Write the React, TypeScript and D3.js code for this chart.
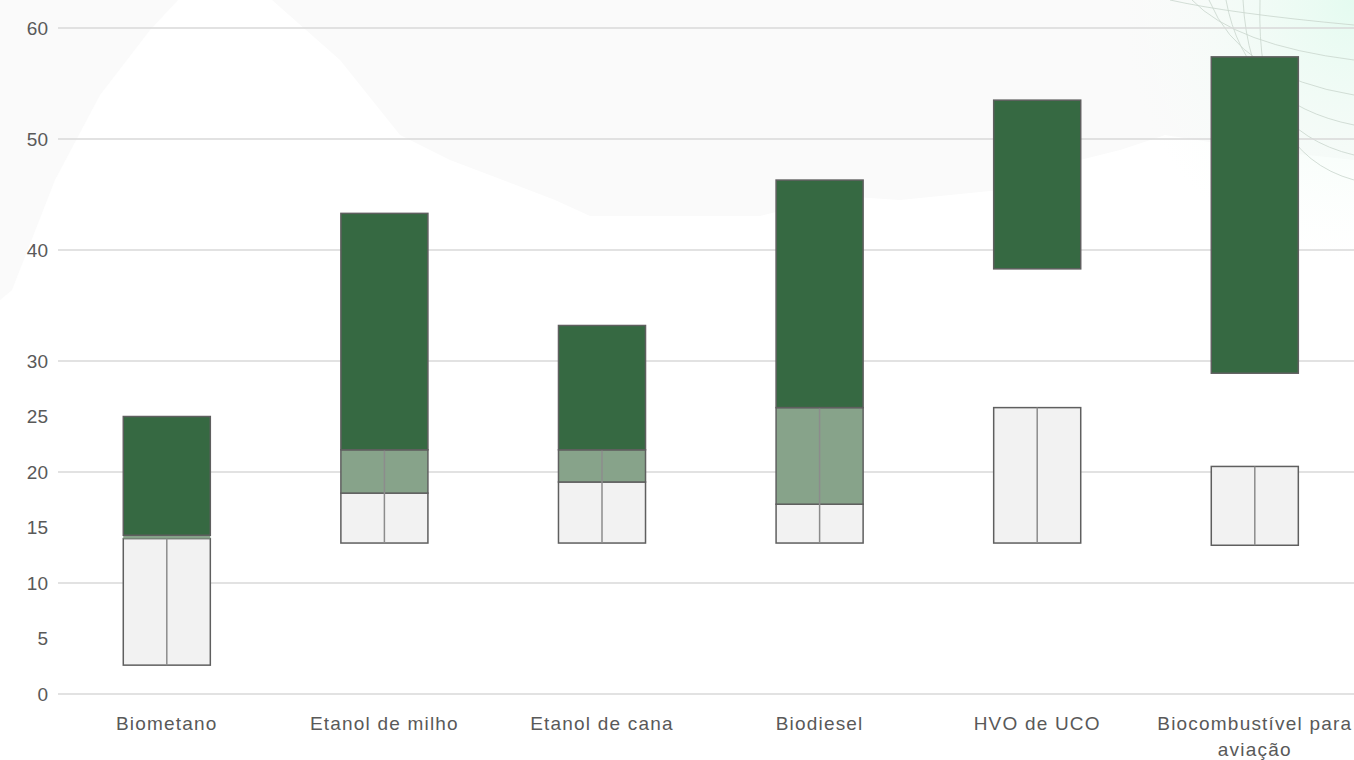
import React, { useEffect, useRef } from 'react';
import * as d3 from 'd3';

// categories and ranges
const categories = ['Biometano', 'Etanol de milho', 'Etanol de cana', 'Biodiesel', 'HVO de UCO', 'Biocombustível para aviação'];
const grayLow = [2.6, 13.6, 13.6, 13.6, 13.6, 13.4];
const grayHigh = [14.0, 18.1, 19.1, 17.1, 25.8, 20.5];
const lightHigh = [14.3, 22.0, 22.0, 25.8, null, null];
const darkLow = [14.3, 22.0, 22.0, 25.8, 38.3, 28.9];
const darkHigh = [25.0, 43.3, 33.2, 46.3, 53.5, 57.4];
const tickLabels = [0, 5, 10, 15, 20, 25, 30, 40, 50, 60];
const gridValues = [0, 10, 20, 30, 40, 50, 60];

const W = 1354;
const H = 760;

export default function App() {
  const svgRef = useRef<SVGSVGElement>(null);

  useEffect(() => {
    if (!svgRef.current) return;
    const svg = d3.select(svgRef.current);
    svg.selectAll('*').remove();

    // background decoration
    svg.append('rect').attr('width', W).attr('height', H).attr('fill', '#ffffff');
    const bg = svg.append('g');
    bg.append('path')
      .attr('d', 'M0,0 L178,0 L150,30 L100,95 L55,180 L12,290 L0,300 Z')
      .attr('fill', '#fafafa');
    bg.append('path')
      .attr('d', 'M272,0 L1354,0 L1354,160 L1260,150 L1165,135 L1120,150 L1060,165 L1000,190 L900,200 L840,196 L800,206 L760,216 L590,216 L555,200 L450,160 L400,135 L340,60 Z')
      .attr('fill', '#fafafa');
    const grad = svg.append('defs').append('radialGradient').attr('id', 'gtint')
      .attr('cx', '1').attr('cy', '0').attr('r', '1');
    grad.append('stop').attr('offset', '0%').attr('stop-color', '#e4fbf0');
    grad.append('stop').attr('offset', '100%').attr('stop-color', '#f6fdf8').attr('stop-opacity', 0);
    bg.append('rect').attr('x', 1120).attr('y', 0).attr('width', 234).attr('height', 260).attr('fill', 'url(#gtint)');
    const arcs = [[1170, 15], [1180, 50], [1185, 85], [1190, 115], [1195, 145], [1200, 170]];
    arcs.forEach(([sx, ey], i) => {
      bg.append('path')
        .attr('d', `M${sx + i * 12},0 Q${1230 + i * 5},${ey * 0.9} 1354,${ey + 10}`)
        .attr('fill', 'none')
        .attr('stroke', '#c9d6cd')
        .attr('stroke-width', 0.8);
    });

    const x = d3.scaleBand<string>()
      .domain(categories)
      .range([58, 1363.6])
      .paddingInner(0.6)
      .paddingOuter(0.3);

    const y = d3.scaleLinear().domain([0, 60]).range([694, 28]);

    // grid
    svg.append('g')
      .selectAll('line')
      .data(gridValues)
      .enter()
      .append('line')
      .attr('x1', 58)
      .attr('x2', W)
      .attr('y1', d => y(d))
      .attr('y2', d => y(d))
      .attr('stroke', '#d9d9d9')
      .attr('stroke-width', 1.5);

    // y labels
    svg.append('g')
      .selectAll('text')
      .data(tickLabels)
      .enter()
      .append('text')
      .attr('x', 48)
      .attr('y', d => y(d))
      .attr('dy', '0.35em')
      .attr('text-anchor', 'end')
      .style('font-family', 'Liberation Sans, Arial, sans-serif')
      .style('font-size', '19px')
      .style('fill', '#595959')
      .text(d => d);

    const bw = x.bandwidth();
    const rows = categories.map((c, i) => ({ c, i }));
    const stroke = '#5f5f5f';

    // gray segment
    svg.append('g').selectAll('rect').data(rows).enter().append('rect')
      .attr('x', d => x(d.c)!)
      .attr('y', d => y(grayHigh[d.i]))
      .attr('width', bw)
      .attr('height', d => y(grayLow[d.i]) - y(grayHigh[d.i]))
      .attr('fill', '#f2f2f2')
      .attr('stroke', stroke)
      .attr('stroke-width', 1.5);

    // light green segment
    svg.append('g').selectAll('rect').data(rows.filter(d => lightHigh[d.i] != null)).enter().append('rect')
      .attr('x', d => x(d.c)!)
      .attr('y', d => y(lightHigh[d.i]!))
      .attr('width', bw)
      .attr('height', d => y(grayHigh[d.i]) - y(lightHigh[d.i]!))
      .attr('fill', '#87a38a')
      .attr('stroke', d => (lightHigh[d.i]! - grayHigh[d.i] < 1 ? 'none' : stroke))
      .attr('stroke-width', 1.5);

    // middle line
    svg.append('g').selectAll('line').data(rows).enter().append('line')
      .attr('x1', d => x(d.c)! + bw / 2)
      .attr('x2', d => x(d.c)! + bw / 2)
      .attr('y1', d => y(grayLow[d.i]))
      .attr('y2', d => y(lightHigh[d.i] != null && lightHigh[d.i]! - grayHigh[d.i] >= 1 ? lightHigh[d.i]! : grayHigh[d.i]))
      .attr('stroke', '#8c8c8c')
      .attr('stroke-width', 1.5);

    // dark green segment
    svg.append('g').selectAll('rect').data(rows).enter().append('rect')
      .attr('x', d => x(d.c)!)
      .attr('y', d => y(darkHigh[d.i]))
      .attr('width', bw)
      .attr('height', d => y(darkLow[d.i]) - y(darkHigh[d.i]))
      .attr('fill', '#366942')
      .attr('stroke', stroke)
      .attr('stroke-width', 1.5);

    // category labels
    const lab = svg.append('g').selectAll('text').data(rows).enter().append('text')
      .attr('x', d => x(d.c)! + bw / 2)
      .attr('y', 730)
      .attr('text-anchor', 'middle')
      .style('font-family', 'Liberation Sans, Arial, sans-serif')
      .style('font-size', '19px')
      .style('letter-spacing', '1.2px')
      .style('fill', '#595959');
    lab.each(function (d) {
      const t = d3.select(this);
      const parts = d.c === 'Biocombustível para aviação' ? ['Biocombustível para', 'aviação'] : [d.c];
      parts.forEach((p, k) => {
        t.append('tspan')
          .attr('x', x(d.c)! + bw / 2)
          .attr('dy', k === 0 ? 0 : 26)
          .text(p);
      });
    });
  }, []);

  return (
    <div style={{ position: 'absolute', left: 0, top: 0, width: W, height: H, overflow: 'hidden' }}>
      <svg ref={svgRef} width={W} height={H} style={{ display: 'block' }} />
    </div>
  );
}
